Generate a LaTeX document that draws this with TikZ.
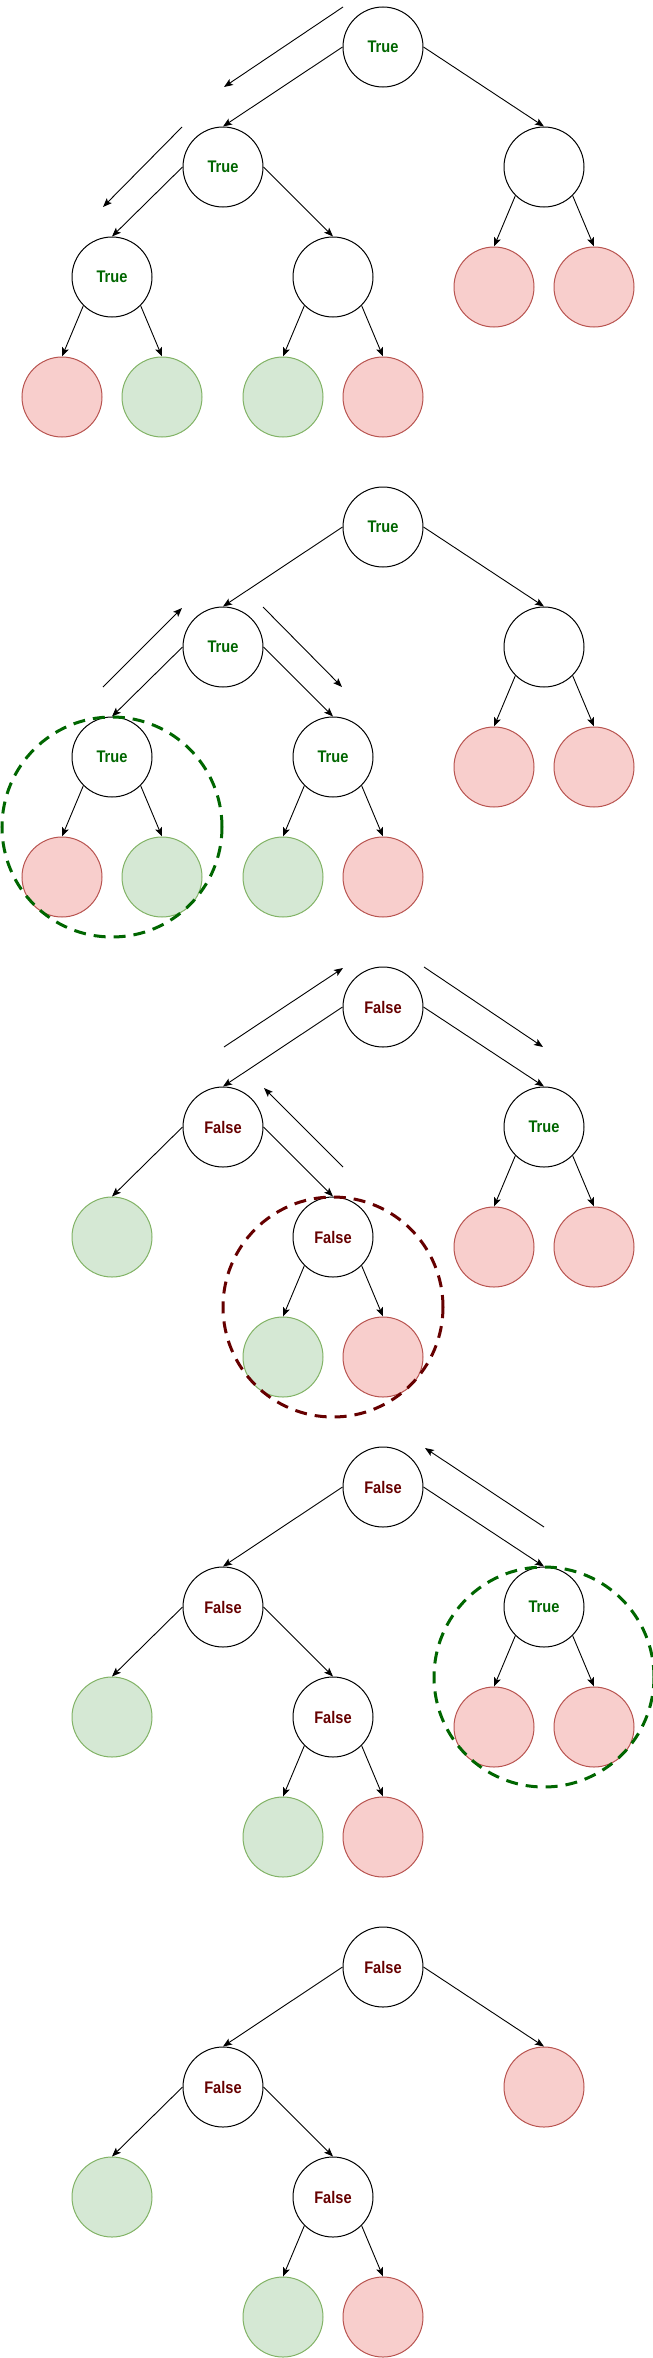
\documentclass[tikz,border=0pt]{standalone}
\usepackage{fontspec}
\setmainfont[FakeStretch=0.87]{Liberation Sans}
\usetikzlibrary{arrows.meta}
\definecolor{trueGreen}{HTML}{006600}
\definecolor{falseRed}{HTML}{660000}
\definecolor{redFill}{HTML}{F8CECC}
\definecolor{redLine}{HTML}{B85450}
\definecolor{greenFill}{HTML}{D5E8D4}
\definecolor{greenLine}{HTML}{82B366}

\begin{document}
\begin{tikzpicture}[x=1pt,y=-1pt,%%
  nodeStyle/.style={circle,draw,line width=1pt,minimum size=80pt,inner sep=0pt,%%
    font=\fontsize{16.8}{20}\selectfont\bfseries},%%
  trueStyle/.style={nodeStyle,text=trueGreen},%%
  falseStyle/.style={nodeStyle,text=falseRed},%%
  redLeafStyle/.style={nodeStyle,fill=redFill,draw=redLine},%%
  greenLeafStyle/.style={nodeStyle,fill=greenFill,draw=greenLine},%%
  edgeStyle/.style={-{Stealth[length=9pt,width=7pt,inset=2pt]},line width=0.9pt},%%
  arrowStyle/.style={edgeStyle},%%
  ringStyle/.style={dash pattern=on 12pt off 8pt,line width=3pt}%%
]
%%
%%
\pgfmathsetmacro{\oA}{0}
\pgfmathsetmacro{\oB}{480}
\pgfmathsetmacro{\oC}{960}
\pgfmathsetmacro{\oD}{1440}
\pgfmathsetmacro{\oE}{1920}
%%
\useasboundingbox (0,0) rectangle (653,2358);
%%
%% First tree: going down the left side.
\node[trueStyle] (A) at (383,\oA+47) {True};
\node[trueStyle] (AL) at (223,\oA+167) {True};
\node[nodeStyle] (AR) at (544,\oA+167) {};
\node[trueStyle] (ALL) at (112,\oA+277) {True};
\node[nodeStyle] (ALR) at (333,\oA+277) {};
\node[redLeafStyle] (ALLL) at (62,\oA+397) {};
\node[greenLeafStyle] (ALLR) at (162,\oA+397) {};
\node[greenLeafStyle] (ALRL) at (283,\oA+397) {};
\node[redLeafStyle] (ALRR) at (383,\oA+397) {};
\node[redLeafStyle] (ARL) at (494,\oA+287) {};
\node[redLeafStyle] (ARR) at (594,\oA+287) {};
\draw[edgeStyle] (A.west) -- (AL.north);
\draw[edgeStyle] (A.east) -- (AR.north);
\draw[edgeStyle] (AL.west) -- (ALL.north);
\draw[edgeStyle] (AL.east) -- (ALR.north);
\draw[edgeStyle] (ALL.south west) -- (ALLL.north);
\draw[edgeStyle] (ALL.south east) -- (ALLR.north);
\draw[edgeStyle] (ALR.south west) -- (ALRL.north);
\draw[edgeStyle] (ALR.south east) -- (ALRR.north);
\draw[edgeStyle] (AR.south west) -- (ARL.north);
\draw[edgeStyle] (AR.south east) -- (ARR.north);
%% Walk arrows of the first tree.
\coordinate (aOneS) at (343,\oA+7);
\coordinate (aOneE) at (224,\oA+87);
\coordinate (aTwoS) at (182,\oA+127);
\coordinate (aTwoE) at (103,\oA+207);
\draw[arrowStyle] (aOneS) -- (aOneE);
\draw[arrowStyle] (aTwoS) -- (aTwoE);
%%
%% Second tree: back up and into the right subtree.
\node[trueStyle] (B) at (383,\oB+47) {True};
\node[trueStyle] (BL) at (223,\oB+167) {True};
\node[nodeStyle] (BR) at (544,\oB+167) {};
\node[trueStyle] (BLL) at (112,\oB+277) {True};
\node[trueStyle] (BLR) at (333,\oB+277) {True};
\node[redLeafStyle] (BLLL) at (62,\oB+397) {};
\node[greenLeafStyle] (BLLR) at (162,\oB+397) {};
\node[greenLeafStyle] (BLRL) at (283,\oB+397) {};
\node[redLeafStyle] (BLRR) at (383,\oB+397) {};
\node[redLeafStyle] (BRL) at (494,\oB+287) {};
\node[redLeafStyle] (BRR) at (594,\oB+287) {};
\draw[edgeStyle] (B.west) -- (BL.north);
\draw[edgeStyle] (B.east) -- (BR.north);
\draw[edgeStyle] (BL.west) -- (BLL.north);
\draw[edgeStyle] (BL.east) -- (BLR.north);
\draw[edgeStyle] (BLL.south west) -- (BLLL.north);
\draw[edgeStyle] (BLL.south east) -- (BLLR.north);
\draw[edgeStyle] (BLR.south west) -- (BLRL.north);
\draw[edgeStyle] (BLR.south east) -- (BLRR.north);
\draw[edgeStyle] (BR.south west) -- (BRL.north);
\draw[edgeStyle] (BR.south east) -- (BRR.north);
%% Walk arrows and ring of the second tree.
\coordinate (bOneS) at (103,\oB+207);
\coordinate (bOneE) at (182,\oB+128);
\coordinate (bTwoS) at (263,\oB+127);
\coordinate (bTwoE) at (342,\oB+207);
\draw[arrowStyle] (bOneS) -- (bOneE);
\draw[arrowStyle] (bTwoS) -- (bTwoE);
\coordinate (bRing) at (112,\oB+347);
\draw[ringStyle,trueGreen] (bRing) circle[radius=110pt];
%%
%% Third tree: the left subtree is pruned.
\node[falseStyle] (C) at (383,\oC+47) {False};
\node[falseStyle] (CL) at (223,\oC+167) {False};
\node[trueStyle] (CR) at (544,\oC+167) {True};
\node[greenLeafStyle] (CLL) at (112,\oC+277) {};
\node[falseStyle] (CLR) at (333,\oC+277) {False};
\node[greenLeafStyle] (CLRL) at (283,\oC+397) {};
\node[redLeafStyle] (CLRR) at (383,\oC+397) {};
\node[redLeafStyle] (CRL) at (494,\oC+287) {};
\node[redLeafStyle] (CRR) at (594,\oC+287) {};
\draw[edgeStyle] (C.west) -- (CL.north);
\draw[edgeStyle] (C.east) -- (CR.north);
\draw[edgeStyle] (CL.west) -- (CLL.north);
\draw[edgeStyle] (CL.east) -- (CLR.north);
\draw[edgeStyle] (CLR.south west) -- (CLRL.north);
\draw[edgeStyle] (CLR.south east) -- (CLRR.north);
\draw[edgeStyle] (CR.south west) -- (CRL.north);
\draw[edgeStyle] (CR.south east) -- (CRR.north);
%% Walk arrows and ring of the third tree.
\coordinate (cOneS) at (224,\oC+87);
\coordinate (cOneE) at (343,\oC+8);
\coordinate (cTwoS) at (424,\oC+7);
\coordinate (cTwoE) at (543,\oC+87);
\coordinate (cThreeS) at (343,\oC+207);
\coordinate (cThreeE) at (264,\oC+128);
\draw[arrowStyle] (cOneS) -- (cOneE);
\draw[arrowStyle] (cTwoS) -- (cTwoE);
\draw[arrowStyle] (cThreeS) -- (cThreeE);
\coordinate (cRing) at (333,\oC+347);
\draw[ringStyle,falseRed] (cRing) circle[radius=110pt];
%%
%% Fourth tree: the right subtree is checked.
\node[falseStyle] (D) at (383,\oD+47) {False};
\node[falseStyle] (DL) at (223,\oD+167) {False};
\node[trueStyle] (DR) at (544,\oD+167) {True};
\node[greenLeafStyle] (DLL) at (112,\oD+277) {};
\node[falseStyle] (DLR) at (333,\oD+277) {False};
\node[greenLeafStyle] (DLRL) at (283,\oD+397) {};
\node[redLeafStyle] (DLRR) at (383,\oD+397) {};
\node[redLeafStyle] (DRL) at (494,\oD+287) {};
\node[redLeafStyle] (DRR) at (594,\oD+287) {};
\draw[edgeStyle] (D.west) -- (DL.north);
\draw[edgeStyle] (D.east) -- (DR.north);
\draw[edgeStyle] (DL.west) -- (DLL.north);
\draw[edgeStyle] (DL.east) -- (DLR.north);
\draw[edgeStyle] (DLR.south west) -- (DLRL.north);
\draw[edgeStyle] (DLR.south east) -- (DLRR.north);
\draw[edgeStyle] (DR.south west) -- (DRL.north);
\draw[edgeStyle] (DR.south east) -- (DRR.north);
%% Walk arrow and ring of the fourth tree.
\coordinate (dOneS) at (544,\oD+87);
\coordinate (dOneE) at (425,\oD+8);
\draw[arrowStyle] (dOneS) -- (dOneE);
\coordinate (dRing) at (544,\oD+237);
\draw[ringStyle,trueGreen] (dRing) circle[radius=110pt];
%%
%% Fifth tree: both subtrees pruned.
\node[falseStyle] (E) at (383,\oE+47) {False};
\node[falseStyle] (EL) at (223,\oE+167) {False};
\node[redLeafStyle] (ER) at (544,\oE+167) {};
\node[greenLeafStyle] (ELL) at (112,\oE+277) {};
\node[falseStyle] (ELR) at (333,\oE+277) {False};
\node[greenLeafStyle] (ELRL) at (283,\oE+397) {};
\node[redLeafStyle] (ELRR) at (383,\oE+397) {};
\draw[edgeStyle] (E.west) -- (EL.north);
\draw[edgeStyle] (E.east) -- (ER.north);
\draw[edgeStyle] (EL.west) -- (ELL.north);
\draw[edgeStyle] (EL.east) -- (ELR.north);
\draw[edgeStyle] (ELR.south west) -- (ELRL.north);
\draw[edgeStyle] (ELR.south east) -- (ELRR.north);
\end{tikzpicture}
\end{document}
